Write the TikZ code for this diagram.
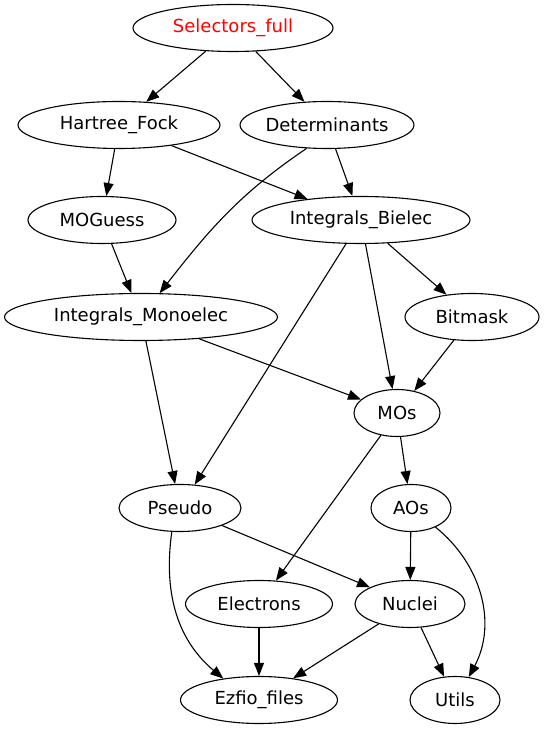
\documentclass[tikz,border=0pt]{standalone}
\usepackage{fontspec}
\setmainfont{DejaVu Sans}
\usetikzlibrary{shapes.geometric,arrows.meta}
\tikzset{
  nd/.style={ellipse, draw, line width=1.1pt, inner sep=0pt, minimum height=47pt, font=\fontsize{18}{20}\selectfont},
  ed/.style={line width=1.1pt, -{Triangle[length=13pt,width=10pt]}}
}
\begin{document}
\begin{tikzpicture}[x=1pt,y=1pt]
\useasboundingbox (0,0) rectangle (544,731);
\node[nd, minimum width=200pt, text=red] (sel) at (233,703) {Selectors\_full};
\node[nd, minimum width=202pt] (hf) at (119,606) {Hartree\_Fock};
\node[nd, minimum width=168pt] (det) at (327,606) {Determinants};
\node[nd, minimum width=148pt] (mog) at (102,511) {MOGuess};
\node[nd, minimum width=218pt] (ib) at (361,511) {Integrals\_Bielec};
\node[nd, minimum width=273pt] (im) at (141,414) {Integrals\_Monoelec};
\node[nd, minimum width=134pt] (bit) at (472,414) {Bitmask};
\node[nd, minimum width=86pt] (mos) at (397,318) {MOs};
\node[nd, minimum width=122pt] (pse) at (180,223) {Pseudo};
\node[nd, minimum width=80pt] (aos) at (411,223) {AOs};
\node[nd, minimum width=147pt] (ele) at (259,127) {Electrons};
\node[nd, minimum width=110pt] (nuc) at (410,127) {Nuclei};
\node[nd, minimum width=157pt] (ezf) at (259,31) {Ezfio\_files};
\node[nd, minimum width=90pt] (uti) at (455,31) {Utils};

\draw[ed] (sel) -- (hf);
\draw[ed] (sel) -- (det);
\draw[ed] (hf) -- (mog);
\draw[ed] (hf) -- (ib);
\draw[ed] (det) -- (ib);
\draw[ed] (det.229) to[out=214,in=52] (im.52);
\draw[ed] (mog) -- (im);
\draw[ed] (ib) -- (bit);
\draw[ed] (ib) -- (mos);
\draw[ed] (ib) -- (pse);
\draw[ed] (im) -- (mos);
\draw[ed] (im) -- (pse);
\draw[ed] (bit) -- (mos);
\draw[ed] (mos) -- (aos);
\draw[ed] (mos) -- (ele);
\draw[ed] (pse) -- (nuc);
\draw[ed] (pse.251) to[out=262,in=140] (ezf.149);
\draw[ed] (aos) -- (nuc);
\draw[ed] (aos.322) to[out=-39,in=62] (uti.59);
\draw[ed] (ele) -- (ezf);
\draw[ed] (nuc) -- (ezf);
\draw[ed] (nuc) -- (uti);
\end{tikzpicture}
\end{document}
